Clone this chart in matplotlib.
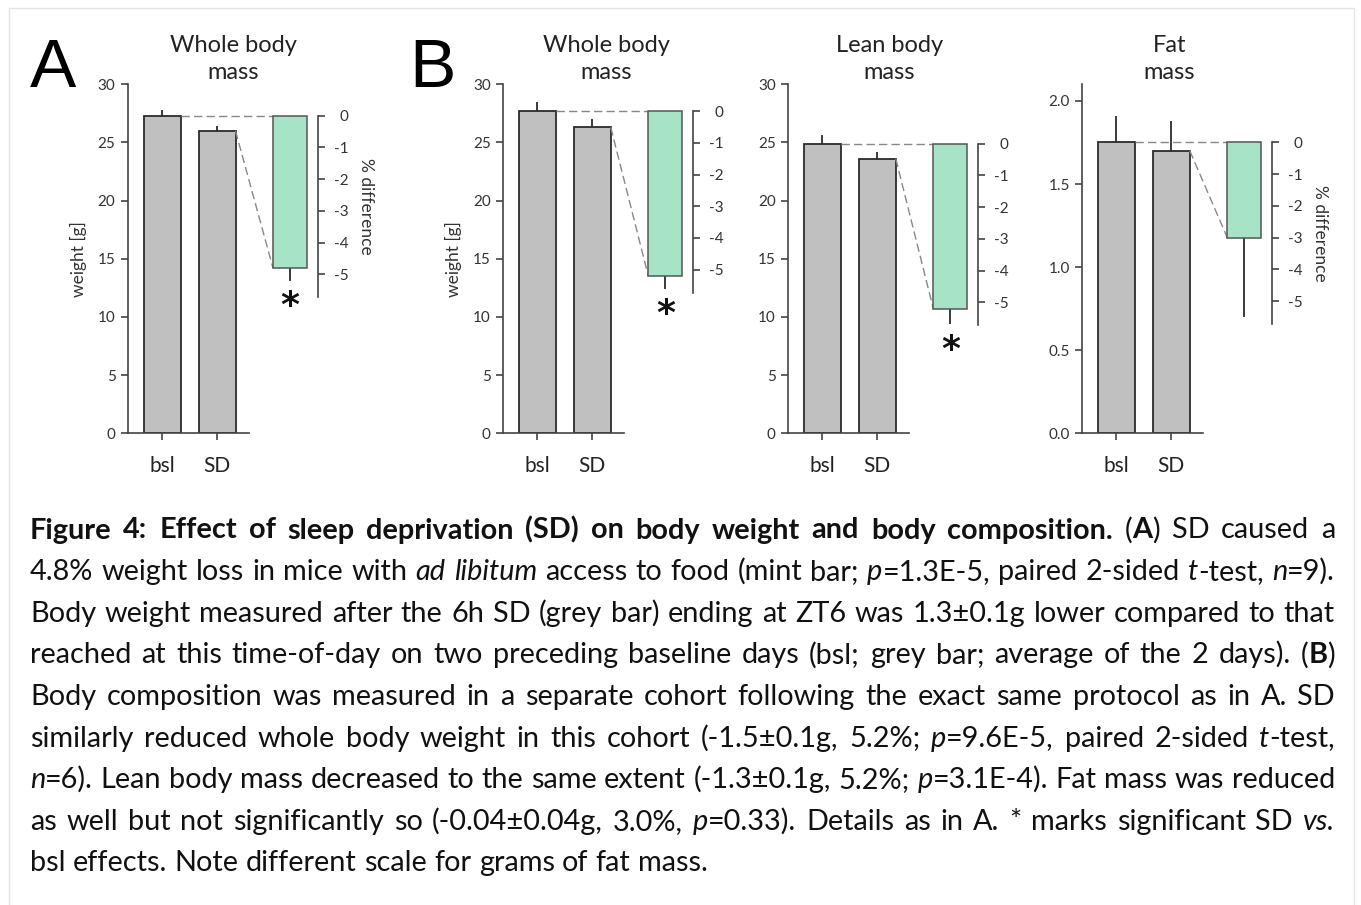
import matplotlib
matplotlib.use("Agg")
import matplotlib.pyplot as plt
from matplotlib.patches import Rectangle

W, H = 1361, 905

# ---- data ----
PANEL_TITLES = ["Whole body\nmass", "Whole body\nmass", "Lean body\nmass", "Fat\nmass"]
GROUPS = ["bsl", "SD"]
BSL_MEAN = [27.3, 27.7, 24.9, 1.75]
BSL_ERR = [0.5, 0.8, 0.7, 0.16]
SD_MEAN = [26.0, 26.3, 23.6, 1.70]
SD_ERR = [0.4, 0.7, 0.6, 0.18]
PCT_MEAN = [-4.8, -5.2, -5.2, -3.0]
PCT_ERR = [0.4, 0.4, 0.5, 2.5]
SIGNIFICANT = [True, True, True, False]
Y_MAX = [30, 30, 30, 2.1]
Y_TICKS = [[0, 5, 10, 15, 20, 25, 30]] * 3 + [[0.0, 0.5, 1.0, 1.5, 2.0]]
Y_TICKLABELS = [["0", "5", "10", "15", "20", "25", "30"]] * 3 + [["0.0", "0.5", "1.0", "1.5", "2.0"]]
PCT_TICKS = [0, -1, -2, -3, -4, -5]
PCT_TICKLABELS = ["0", "-1", "-2", "-3", "-4", "-5"]
SHOW_YLABEL = [True, True, False, False]
SHOW_PCTLABEL = [True, False, False, True]

CAPTION = [
    [("Figure 4: Effect of sleep deprivation (SD) on body weight and body composition.", "b"),
     (" (", "r"), ("A", "b"), (") SD caused a", "r")],
    [("4.8% weight loss in mice with ", "r"), ("ad libitum", "i"),
     (" access to food (mint bar; ", "r"), ("p", "i"), ("=1.3E-5, paired 2-sided ", "r"),
     ("t", "i"), ("-test, ", "r"), ("n", "i"), ("=9).", "r")],
    [("Body weight measured after the 6h SD (grey bar) ending at ZT6 was 1.3\u00b10.1g lower compared to that", "r")],
    [("reached at this time-of-day on two preceding baseline days (bsl; grey bar; average of the 2 days). (", "r"),
     ("B", "b"), (")", "r")],
    [("Body composition was measured in a separate cohort following the exact same protocol as in A. SD", "r")],
    [("similarly reduced whole body weight in this cohort (-1.5\u00b10.1g, 5.2%; ", "r"), ("p", "i"),
     ("=9.6E-5, paired 2-sided ", "r"), ("t", "i"), ("-test,", "r")],
    [("n", "i"), ("=6). Lean body mass decreased to the same extent (-1.3\u00b10.1g, 5.2%; ", "r"),
     ("p", "i"), ("=3.1E-4). Fat mass was reduced", "r")],
    [("as well but not significantly so (-0.04\u00b10.04g, 3.0%, ", "r"), ("p", "i"),
     ("=0.33). Details as in A. * marks significant SD ", "r"), ("vs.", "i")],
    [("bsl effects. Note different scale for grams of fat mass.", "r")],
]

# ---- layout (pixels) ----
AX_LEFT = [128, 503.3, 788.3, 1082.3]
AX_W, AX_TOP, AX_BOT = 190, 84.3, 433.3
TITLE_DX = [105, 103, 101, 87]
X_BSL, X_SD, X_MINT = 34, 89, 162
PCT_RANGE = 11.0

GREY = "#c0c0c0"
MINT = "#a6e3c7"
DARK = "#2b2b2b"
AXC = "#444444"
CHART_FONT = ["Lato", "DejaVu Sans"]
CAP_FONT = ["Lato", "DejaVu Sans"]


def fx(px):
    return px / W


def fy(py):
    return 1 - py / H


fig = plt.figure(figsize=(W / 100, H / 100), dpi=100)
fig.patch.set_facecolor("white")
fig.add_artist(Rectangle((fx(8.5), fy(930)), fx(1345), (930 - 8.5) / H, fill=False,
                         edgecolor="#e4e4e4", linewidth=1.0, transform=fig.transFigure))

fig.text(fx(30), fy(86.7), "A", fontsize=50, family="Liberation Sans", va="baseline")
fig.text(fx(409), fy(86.7), "B", fontsize=50, family="Liberation Sans", va="baseline")

for i in range(4):
    ax = fig.add_axes([fx(AX_LEFT[i]), fy(AX_BOT), AX_W / W, (AX_BOT - AX_TOP) / H])
    ax.patch.set_alpha(0)
    ax.bar([X_BSL, X_SD], [BSL_MEAN[i], SD_MEAN[i]], width=37, color=GREY,
           edgecolor=DARK, linewidth=1.3, zorder=2)
    ax.vlines([X_BSL, X_SD], [BSL_MEAN[i], SD_MEAN[i]],
              [BSL_MEAN[i] + BSL_ERR[i], SD_MEAN[i] + SD_ERR[i]], color=DARK, linewidth=1.3, zorder=1)
    ax.set_xlim(0, AX_W)
    ax.set_ylim(0, Y_MAX[i])
    for s in ["top", "right"]:
        ax.spines[s].set_visible(False)
    ax.spines["bottom"].set_bounds(0, 121)
    for s in ["left", "bottom"]:
        ax.spines[s].set_color(AXC)
        ax.spines[s].set_linewidth(1.2)
    ax.set_xticks([X_BSL, X_SD], labels=GROUPS)
    ax.set_yticks(Y_TICKS[i], labels=Y_TICKLABELS[i])
    ax.tick_params(axis="x", length=5, width=1.2, color=AXC, pad=11, labelsize=15, labelcolor="#222222")
    ax.tick_params(axis="y", length=5, width=1.2, color=AXC, pad=4, labelsize=11, labelcolor="#333333")
    for lab in ax.get_xticklabels() + ax.get_yticklabels():
        lab.set_family(CHART_FONT)

    ax2 = ax.twinx()
    frac = BSL_MEAN[i] / Y_MAX[i]
    ax2.set_ylim(-frac * PCT_RANGE, (1 - frac) * PCT_RANGE)
    ax2.bar(X_MINT, PCT_MEAN[i], width=34, color=MINT, edgecolor="#555555", linewidth=1.1, zorder=2)
    ax2.vlines(X_MINT, PCT_MEAN[i] - PCT_ERR[i], PCT_MEAN[i], color=DARK, linewidth=1.3, zorder=1)
    for s in ["top", "left", "bottom"]:
        ax2.spines[s].set_visible(False)
    ax2.spines["right"].set_bounds(-5.72, 0)
    ax2.spines["right"].set_color(AXC)
    ax2.spines["right"].set_linewidth(1.2)
    ax2.set_yticks(PCT_TICKS, labels=PCT_TICKLABELS)
    ax2.tick_params(axis="y", length=5, width=1.2, color=AXC, pad=17, labelsize=11, labelcolor="#333333")
    for lab in ax2.get_yticklabels():
        lab.set_family(CHART_FONT)
        lab.set_horizontalalignment("right")

    # dashed connectors bsl -> top of mint bar, SD -> bottom of mint bar
    x_end = X_MINT - 17
    y_low = ax.transData.inverted().transform(ax2.transData.transform((x_end, PCT_MEAN[i])))[1]
    ax.plot([X_BSL + 18.5, x_end], [BSL_MEAN[i], BSL_MEAN[i]], ls=(0, (6, 3)), color="#888888", lw=1.0, zorder=3)
    ax.plot([X_SD + 18.5, x_end], [SD_MEAN[i], y_low], ls=(0, (6, 3)), color="#888888", lw=1.0, zorder=3)

    if SIGNIFICANT[i]:
        ax2.annotate("*", xy=(X_MINT, PCT_MEAN[i] - PCT_ERR[i]), xytext=(0, -6), textcoords="offset points",
                     ha="center", va="top", fontsize=26, weight="bold", family="DejaVu Sans", color="#111111")
    if SHOW_PCTLABEL[i]:
        ax2.text(238, -2.86, "% difference", rotation=-90, ha="center", va="center",
                 fontsize=12.5, family=CHART_FONT, color="#333333")
    if SHOW_YLABEL[i]:
        ax.text(-50, Y_MAX[i] / 2, "weight [g]", rotation=90, ha="center", va="center",
                fontsize=12.5, family=CHART_FONT, color="#333333")

    fig.text(fx(AX_LEFT[i] + TITLE_DX[i]), fy(59), PANEL_TITLES[i], ha="center", va="center",
             fontsize=17, family=CHART_FONT, color="#222222", linespacing=1.38)

# ---- justified caption ----
STYLE = {"r": {}, "b": {"weight": "bold"}, "i": {"style": "italic"}}
CAP_X0, CAP_X1 = 30, 1335
BASE0, LINE_STEP = 538.5, 41.6
renderer = fig.canvas.get_renderer()


def text_width(s, st, size):
    t = fig.text(0, 0, s, fontsize=size, family=CAP_FONT, **STYLE[st])
    w = t.get_window_extent(renderer).width
    t.remove()
    return w


def split_words(runs):
    words = [[]]
    for txt, st in runs:
        for k, part in enumerate(txt.split(" ")):
            if k > 0:
                words.append([])
            if part:
                words[-1].append((part, st))
    return [w for w in words if w]


lines = [split_words(r) for r in CAPTION]
size = 24.0
for _ in range(4):
    space = text_width("x x", "r", size) - text_width("xx", "r", size)
    widest = max(sum(text_width(f, st, size) for w in ln for f, st in w) + space * (len(ln) - 1)
                 for ln in lines[:-1])
    if widest <= (CAP_X1 - CAP_X0):
        break
    size *= (CAP_X1 - CAP_X0) / widest * 0.997

space = text_width("x x", "r", size) - text_width("xx", "r", size)
for li, ln in enumerate(lines):
    widths = [[text_width(f, st, size) for f, st in w] for w in ln]
    total = sum(sum(w) for w in widths)
    if li < len(lines) - 1 and len(ln) > 1:
        gap = (CAP_X1 - CAP_X0 - total) / (len(ln) - 1)
    else:
        gap = space
    x = CAP_X0
    y = BASE0 + li * LINE_STEP
    for w, ws in zip(ln, widths):
        for (f, st), fw in zip(w, ws):
            fig.text(fx(x), fy(y), f, fontsize=size, family=CAP_FONT, va="baseline",
                     color="#111111", **STYLE[st])
            x += fw
        x += gap

fig.savefig("out.png", dpi=100, facecolor="white")
